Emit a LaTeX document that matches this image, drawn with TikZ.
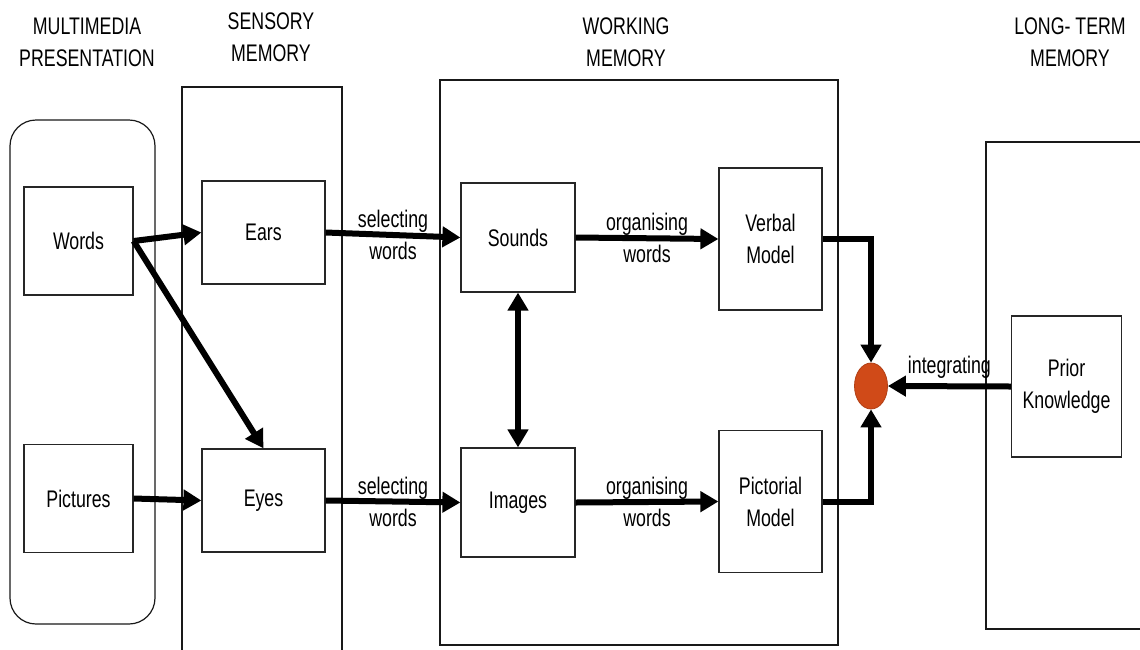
\documentclass[tikz,border=0pt]{standalone}
\usepackage{fontspec}
\setmainfont{Liberation Sans}[FakeStretch=0.74]
\usetikzlibrary{arrows.meta,positioning,shapes.geometric}

\definecolor{dotred}{RGB}{208,74,24}
\def\headtip{Triangle[length=9pt,width=10pt]}

\begin{document}
\begin{tikzpicture}[x=0.5pt,y=-0.5pt,font=\fontsize{12}{16}\selectfont]
        \tikzstyle{panel}=[draw=black!90,line width=0.6pt]
        \tikzstyle{box}=[draw=black!85,line width=0.6pt,inner sep=0pt,align=center]
        \tikzstyle{media box}=[box,minimum width=54.5pt,minimum height=54pt]
        \tikzstyle{sense box}=[box,minimum width=61.5pt,minimum height=51.5pt]
        \tikzstyle{work box}=[box,minimum width=57pt,minimum height=54.5pt]
        \tikzstyle{model box}=[box,minimum width=51.5pt,minimum height=71pt]
        \tikzstyle{flow}=[line width=3pt,-{\headtip}]
        \tikzstyle{annot}=[align=center]

        \useasboundingbox (0,0) rectangle (1140,649);

        % Draw the panels
        \draw[panel,rounded corners=13pt] (10,120) rectangle (155,624);
        \draw[panel] (182,660) -- (182,87) -- (342,87) -- (342,660);
        \draw[panel] (440,80) rectangle (838,645);
        \draw[panel] (1160,142) -- (986,142) -- (986,629) -- (1160,629);

        % Annotate the panels
        \node[annot] (T-1) at (87,42) {MULTIMEDIA\\PRESENTATION};
        \node[annot] (T-2) at (271,37) {SENSORY\\MEMORY};
        \node[annot] (T-3) at (626,42) {WORKING\\MEMORY};
        \node[annot] (T-4) at (1070,42) {LONG- TERM\\MEMORY};

        % Draw the media, sensory and working memory nodes
        \foreach \name / \ym / \ys / \yw / \media / \sense / \work in {1/241/232.5/237.5/Words/Ears/Sounds,2/498.5/500.5/502.5/Pictures/Eyes/Images}
        {
            \node[media box] (M-\name) at (78.5,\ym) {\media};
            \node[sense box] (S-\name) at (263.5,\ys) {\sense};
            \node[work box] (W-\name) at (518,\yw) {\work};
        }

        % Draw the model nodes
        \node[model box] (V-1) at (770.5,239) {Verbal\\Model};
        \node[model box] (V-2) at (770.5,501.5) {Pictorial\\Model};

        % Draw the long-term memory node and the integration point
        \node[box,minimum width=55pt,minimum height=70.5pt] (K) at (1066.5,386.5) {Prior\\Knowledge};
        \node[ellipse,fill=dotred,draw=dotred!85!black,line width=0.4pt,minimum width=16.5pt,minimum height=23pt,inner sep=0pt] (D) at (871,386) {};

        % Connect the media to the senses
        \draw[flow] (M-1.east) -- (S-1.west);
        \draw[flow] (M-1.east) -- (S-2.north);
        \draw[flow] (M-2.east) -- (S-2.west);

        % Select and organise
        \foreach \name in {1,2}
        {
            \draw[flow] (S-\name.east) -- node[annot,midway] {selecting\\words} (W-\name.west);
            \draw[flow] (W-\name.east) -- node[annot,midway] {organising\\words} (V-\name.west);
        }
        \draw[flow,{\headtip}-{\headtip}] (W-1.south) -- (W-1.south |- W-2.north);

        % Integrate
        \draw[flow] (V-1.east) -| (D.north);
        \draw[flow] (V-2.east) -| (D.south);
        \draw[flow] (K.west) -- node[midway,above,yshift=-1pt] {integrating} (D.east);
    \end{tikzpicture}
\end{document}
